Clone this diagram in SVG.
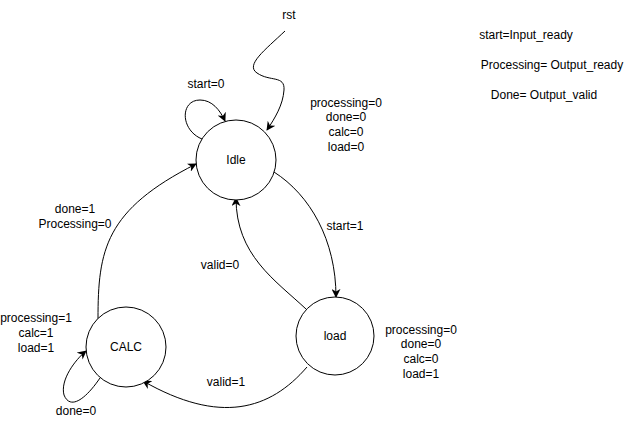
<svg xmlns="http://www.w3.org/2000/svg" width="629" height="427" viewBox="0 0 629 427">
<style>
text{font-family:"Liberation Sans",Arial,sans-serif;font-size:12px;fill:#000;text-anchor:middle;dominant-baseline:central}
.st{fill:#fff;stroke:#000;stroke-width:1}
.e{fill:none;stroke:#000;stroke-width:1;marker-end:url(#a)}
</style>
<defs>
<marker id="a" viewBox="0 0 10 10" refX="9" refY="5" markerWidth="9" markerHeight="9" markerUnits="userSpaceOnUse" orient="auto">
<path d="M0,0 L10,5 L0,10 L3,5 Z" fill="#000"/>
</marker>
</defs>
<rect width="629" height="427" fill="#fff"/>
<g id="connectors">
<path class="e" d="M285,31 C265,50 245,65 257,73 C270,82 285,75 284,90 C283,105 275,118 267,130"/>
<path class="e" d="M202,139 C180,130 180,100 200,100 C212,100 220,110 225,121"/>
<path class="e" d="M274,172 C310,195 336,240 336,297"/>
<path class="e" d="M306,309 C275,280 236,255 236,198"/>
<path class="e" d="M98,319 C98,250 105,210 196,164"/>
<path class="e" d="M307,367 C270,410 220,425 143,381"/>
<path class="e" d="M100,378 C85,400 70,410 64,395 C60,380 75,360 86,351"/>
</g>
<g id="rst"><text x="289" y="15">rst</text></g>
<g id="idle"><circle class="st" cx="236" cy="160" r="40"/><text x="236" y="160">Idle</text></g>
<g id="load"><circle class="st" cx="335" cy="336" r="39"/><text x="335" y="336">load</text></g>
<g id="calc"><circle class="st" cx="126" cy="347" r="40"/><text x="126" y="347">CALC</text></g>
<g id="labels">
<text x="206" y="84">start=0</text>
<text x="346" y="103">processing=0</text>
<text x="346" y="117">done=0</text>
<text x="346" y="132">calc=0</text>
<text x="346" y="147">load=0</text>
<text x="345" y="226">start=1</text>
<text x="220" y="265">valid=0</text>
<text x="226" y="382">valid=1</text>
<text x="75" y="209">done=1</text>
<text x="75" y="224">Processing=0</text>
<text x="36" y="318">processing=1</text>
<text x="36" y="333">calc=1</text>
<text x="36" y="348">load=1</text>
<text x="76" y="411">done=0</text>
<text x="421" y="330">processing=0</text>
<text x="421" y="344">done=0</text>
<text x="421" y="359">calc=0</text>
<text x="421" y="374">load=1</text>
<text x="526" y="35">start=Input_ready</text>
<text x="552" y="65">Processing= Output_ready</text>
<text x="544" y="95">Done= Output_valid</text>
</g>
</svg>
